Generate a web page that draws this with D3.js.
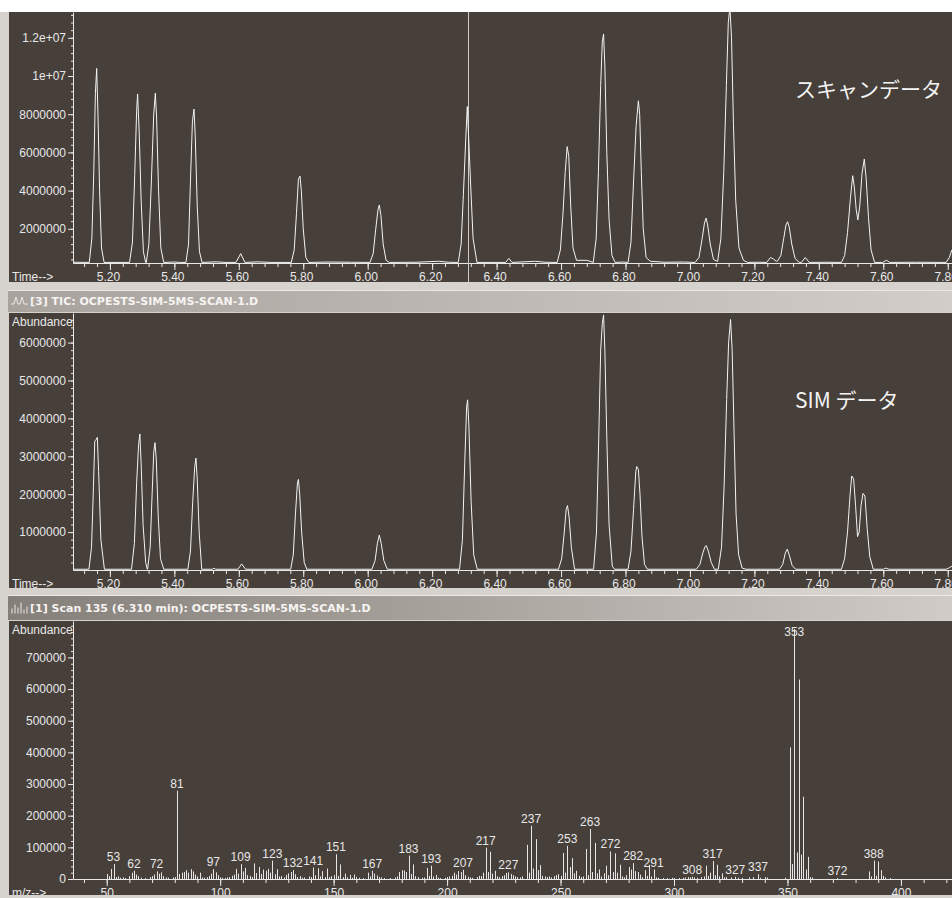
<!DOCTYPE html>
<html>
<head>
<meta charset="utf-8">
<script src="https://cdn.jsdelivr.net/npm/d3@7"></script>
<style>
  body { margin: 0; background: #d6d2cd; }
  svg { display: block; }
</style>
</head>
<body>
<svg id="chart" width="952" height="898"></svg>
<script>
// ---- data ----
// scan TIC trace: [time (min), abundance]
const scanTrace = [
  [5.086, 0.25e6],
  [5.136, 0.24e6], [5.144, 1.5e6], [5.150, 5.0e6], [5.155, 9.1e6], [5.159, 10.4e6], [5.163, 8.0e6], [5.168, 4.0e6], [5.174, 1.0e6], [5.182, 0.24e6],
  [5.261, 0.24e6], [5.270, 1.3e6], [5.277, 4.8e6], [5.283, 8.2e6], [5.286, 9.06e6], [5.291, 7.0e6], [5.297, 3.5e6], [5.304, 0.8e6], [5.311, 0.24e6],
  [5.313, 0.24e6], [5.321, 1.2e6], [5.329, 4.6e6], [5.336, 8.0e6], [5.341, 9.1e6], [5.345, 7.8e6], [5.351, 4.0e6], [5.358, 1.0e6], [5.367, 0.24e6],
  [5.400, 0.26e6], [5.420, 0.24e6],
  [5.436, 0.24e6], [5.444, 1.2e6], [5.450, 4.5e6], [5.456, 7.6e6], [5.461, 8.27e6], [5.465, 6.8e6], [5.471, 3.2e6], [5.478, 0.8e6], [5.486, 0.24e6],
  [5.530, 0.27e6], [5.560, 0.24e6],
  [5.591, 0.24e6], [5.606, 0.7e6], [5.619, 0.24e6],
  [5.660, 0.27e6], [5.700, 0.24e6],
  [5.763, 0.24e6], [5.772, 0.9e6], [5.779, 2.8e6], [5.785, 4.6e6], [5.790, 4.76e6], [5.794, 4.0e6], [5.800, 2.0e6], [5.808, 0.5e6], [5.817, 0.24e6],
  [5.880, 0.26e6], [5.950, 0.25e6],
  [6.007, 0.24e6], [6.017, 0.7e6], [6.025, 2.0e6], [6.032, 3.0e6], [6.036, 3.25e6], [6.041, 2.7e6], [6.048, 1.2e6], [6.057, 0.35e6], [6.067, 0.24e6],
  [6.150, 0.25e6], [6.220, 0.3e6], [6.250, 0.25e6],
  [6.281, 0.24e6], [6.290, 1.2e6], [6.297, 3.8e6], [6.304, 6.6e6], [6.309, 8.4e6], [6.313, 6.9e6], [6.319, 4.5e6], [6.327, 1.5e6], [6.339, 0.24e6],
  [6.428, 0.24e6], [6.438, 0.45e6], [6.448, 0.24e6],
  [6.520, 0.3e6], [6.550, 0.25e6],
  [6.588, 0.24e6], [6.598, 0.9e6], [6.606, 2.8e6], [6.613, 5.0e6], [6.619, 6.3e6], [6.624, 5.8e6], [6.630, 3.2e6], [6.637, 1.0e6], [6.648, 0.35e6],
  [6.680, 0.35e6],
  [6.700, 0.24e6], [6.709, 1.5e6], [6.716, 5.0e6], [6.723, 9.5e6], [6.728, 11.8e6], [6.732, 12.2e6], [6.736, 10.5e6], [6.742, 6.0e6], [6.749, 2.5e6], [6.758, 0.6e6], [6.768, 0.24e6],
  [6.790, 0.26e6],
  [6.808, 0.24e6], [6.817, 1.3e6], [6.825, 4.5e6], [6.833, 7.4e6], [6.840, 8.7e6], [6.844, 8.0e6], [6.849, 5.0e6], [6.855, 2.0e6], [6.864, 0.5e6], [6.877, 0.3e6],
  [6.920, 0.25e6], [6.980, 0.26e6],
  [7.016, 0.24e6], [7.028, 0.5e6], [7.038, 1.5e6], [7.045, 2.3e6], [7.050, 2.56e6], [7.055, 2.2e6], [7.063, 1.2e6], [7.073, 0.4e6], [7.084, 0.3e6],
  [7.086, 0.3e6], [7.096, 1.5e6], [7.105, 5.0e6], [7.113, 9.5e6], [7.119, 12.8e6], [7.124, 13.6e6], [7.129, 12.0e6], [7.135, 7.5e6], [7.142, 3.5e6], [7.152, 1.0e6], [7.166, 0.35e6], [7.179, 0.24e6],
  [7.210, 0.25e6],
  [7.238, 0.24e6], [7.250, 0.5e6], [7.259, 0.42e6], [7.268, 0.3e6],
  [7.271, 0.3e6], [7.282, 0.6e6], [7.291, 1.5e6], [7.298, 2.2e6], [7.303, 2.37e6], [7.308, 2.1e6], [7.316, 1.2e6], [7.326, 0.45e6], [7.339, 0.24e6],
  [7.346, 0.24e6], [7.358, 0.5e6], [7.370, 0.24e6],
  [7.420, 0.25e6],
  [7.470, 0.24e6], [7.480, 0.6e6], [7.489, 1.8e6], [7.498, 3.6e6], [7.505, 4.78e6], [7.510, 4.2e6], [7.516, 3.0e6], [7.521, 2.46e6], [7.527, 3.2e6], [7.534, 4.9e6], [7.541, 5.65e6], [7.547, 4.6e6], [7.554, 2.6e6], [7.562, 0.9e6], [7.573, 0.24e6],
  [7.598, 0.24e6], [7.610, 0.35e6], [7.620, 0.24e6],
  [7.700, 0.25e6],
  [7.795, 0.24e6], [7.805, 0.5e6], [7.813, 0.9e6]
];

// SIM TIC trace: [time (min), abundance]
const simTrace = [
  [5.086, 0.02e6],
  [5.135, 0.02e6], [5.143, 0.6e6], [5.149, 2.2e6], [5.153, 3.4e6], [5.156, 3.42e6], [5.161, 3.5e6], [5.165, 2.6e6], [5.172, 0.8e6], [5.183, 0.02e6],
  [5.267, 0.02e6], [5.276, 0.7e6], [5.283, 2.3e6], [5.289, 3.3e6], [5.293, 3.59e6], [5.297, 2.8e6], [5.303, 1.2e6], [5.311, 0.2e6], [5.316, 0.02e6],
  [5.317, 0.02e6], [5.325, 0.6e6], [5.331, 2.0e6], [5.336, 3.1e6], [5.340, 3.36e6], [5.344, 2.9e6], [5.350, 1.4e6], [5.357, 0.3e6], [5.367, 0.02e6],
  [5.442, 0.02e6], [5.450, 0.5e6], [5.457, 1.8e6], [5.463, 2.7e6], [5.467, 2.95e6], [5.471, 2.4e6], [5.477, 1.0e6], [5.485, 0.02e6],
  [5.518, 0.02e6], [5.523, 0.05e6], [5.528, 0.02e6],
  [5.597, 0.02e6], [5.609, 0.16e6], [5.621, 0.02e6],
  [5.761, 0.02e6], [5.769, 0.4e6], [5.776, 1.5e6], [5.782, 2.3e6], [5.785, 2.39e6], [5.789, 2.0e6], [5.795, 1.0e6], [5.803, 0.2e6], [5.811, 0.02e6],
  [6.013, 0.02e6], [6.023, 0.25e6], [6.030, 0.7e6], [6.036, 0.92e6], [6.042, 0.7e6], [6.050, 0.25e6], [6.061, 0.02e6],
  [6.285, 0.02e6], [6.294, 0.8e6], [6.301, 2.8e6], [6.307, 4.3e6], [6.310, 4.49e6], [6.314, 3.8e6], [6.321, 1.8e6], [6.329, 0.4e6], [6.340, 0.02e6],
  [6.592, 0.02e6], [6.602, 0.3e6], [6.610, 1.0e6], [6.616, 1.6e6], [6.620, 1.7e6], [6.625, 1.4e6], [6.632, 0.6e6], [6.642, 0.02e6],
  [6.701, 0.02e6], [6.710, 1.0e6], [6.717, 3.5e6], [6.723, 5.8e6], [6.728, 6.5e6], [6.732, 6.73e6], [6.736, 5.8e6], [6.742, 3.5e6], [6.749, 1.2e6], [6.759, 0.1e6], [6.766, 0.02e6],
  [6.808, 0.02e6], [6.817, 0.5e6], [6.825, 1.6e6], [6.832, 2.6e6], [6.835, 2.73e6], [6.840, 2.65e6], [6.845, 2.0e6], [6.851, 0.9e6], [6.859, 0.15e6], [6.868, 0.02e6],
  [7.020, 0.02e6], [7.031, 0.15e6], [7.040, 0.45e6], [7.047, 0.62e6], [7.051, 0.64e6], [7.057, 0.5e6], [7.066, 0.2e6], [7.076, 0.02e6],
  [7.088, 0.02e6], [7.098, 0.6e6], [7.106, 2.2e6], [7.114, 4.5e6], [7.120, 6.0e6], [7.126, 6.61e6], [7.131, 5.8e6], [7.137, 3.6e6], [7.143, 1.5e6], [7.151, 0.4e6], [7.162, 0.05e6], [7.174, 0.02e6],
  [7.278, 0.02e6], [7.288, 0.15e6], [7.296, 0.45e6], [7.302, 0.55e6], [7.308, 0.4e6], [7.317, 0.12e6], [7.328, 0.02e6],
  [7.470, 0.02e6], [7.480, 0.3e6], [7.489, 1.0e6], [7.497, 2.0e6], [7.502, 2.48e6], [7.508, 2.4e6], [7.514, 1.7e6], [7.520, 0.88e6], [7.525, 1.0e6], [7.531, 1.7e6], [7.537, 2.02e6], [7.543, 1.95e6], [7.550, 1.1e6], [7.558, 0.35e6], [7.569, 0.02e6],
  [7.600, 0.02e6], [7.608, 0.05e6], [7.618, 0.02e6],
  [7.795, 0.02e6], [7.805, 0.06e6], [7.813, 0.1e6]
];

// mass spectrum of scan 135: [m/z, abundance]
const spectrum = [
  [50,16000],[51,9000],[52,32000],[53,47000],[54,6000],[55,8000],[56,4000],[57,5000],[58,3000],
  [60,9000],[61,20000],[62,26000],[63,14000],[64,9000],[65,4000],[67,3000],[69,6000],
  [70,9000],[71,14000],[72,24000],[73,17000],[74,21000],[75,9000],[76,5000],[77,4000],[79,5000],
  [80,6000],[81,279000],[82,16000],[83,20000],[84,22000],[85,28000],[86,20000],[87,31000],[88,24000],[89,14000],
  [90,8000],[91,20000],[92,5000],[93,4000],[94,6000],[95,9000],[96,17000],[97,31000],[98,21000],[99,12000],
  [100,5000],[101,4000],[102,3000],[103,5000],[104,6000],[105,10000],[106,14000],[107,32000],[108,17000],[109,47000],
  [110,24000],[111,35000],[112,12000],[113,10000],[114,6000],[115,49000],[116,19000],[117,38000],[118,16000],[119,30000],
  [120,26000],[121,32000],[122,20000],[123,58000],[124,15000],[125,31000],[126,8000],[127,9000],[128,5000],[129,13000],
  [130,18000],[131,22000],[132,28000],[133,15000],[134,6000],[135,9000],[136,4000],[137,5000],[139,8000],
  [140,6000],[141,36000],[142,12000],[143,34000],[144,8000],[145,25000],[146,6000],[147,33000],[148,6000],[149,9000],
  [150,12000],[151,78000],[152,10000],[153,46000],[154,6000],[155,17000],[156,5000],[157,13000],[158,4000],[159,14000],
  [160,6000],[161,4000],[163,3000],[165,20000],[166,8000],[167,26000],[168,17000],[169,11000],
  [170,6000],[171,5000],[172,3000],[175,3000],[177,5000],[178,8000],[179,22000],
  [180,28000],[181,27000],[182,22000],[183,74000],[184,16000],[185,46000],[186,9000],[187,6000],[189,4000],
  [190,5000],[191,35000],[192,10000],[193,42000],[194,8000],[195,13000],[196,4000],[197,3000],[199,4000],
  [200,6000],[201,8000],[202,10000],[203,20000],[204,14000],[205,25000],[206,22000],[207,29000],[208,12000],[209,7000],
  [210,5000],[211,4000],[213,6000],[214,10000],[215,9000],[216,20000],[217,99000],[218,22000],[219,86000],
  [220,17000],[221,26000],[222,8000],[223,6000],[224,9000],[225,12000],[226,19000],[227,21000],[228,16000],[229,12000],
  [230,8000],[231,6000],[232,5000],[233,8000],[235,108000],[236,20000],[237,168000],[238,33000],[239,126000],
  [240,28000],[241,44000],[242,10000],[243,8000],[244,6000],[245,8000],[246,5000],[247,9000],[248,12000],[249,15000],
  [250,10000],[251,82000],[252,20000],[253,105000],[254,38000],[255,66000],[256,18000],[257,26000],[258,10000],[259,6000],
  [260,8000],[261,95000],[262,12000],[263,158000],[264,22000],[265,114000],[266,18000],[267,30000],[268,8000],[269,18000],
  [270,42000],[271,12000],[272,87000],[273,22000],[274,81000],[275,20000],[276,45000],[277,8000],[278,5000],[279,12000],
  [280,38000],[281,30000],[282,50000],[283,25000],[284,22000],[285,14000],[286,6000],[287,28000],[288,10000],[289,45000],
  [290,8000],[291,30000],[292,5000],[293,4000],[295,3000],[297,3000],[299,4000],
  [300,3000],[302,3000],[304,4000],[305,5000],[306,6000],[307,5000],[308,7000],[309,5000],
  [310,4000],[312,6000],[313,8000],[314,42000],[315,10000],[316,20000],[317,57000],[318,12000],[319,45000],
  [320,8000],[321,18000],[322,5000],[323,6000],[325,5000],[327,7000],[328,4000],
  [330,4000],[333,5000],[335,6000],[337,15000],[338,4000],[340,6000],[341,5000],[349,4000],
  [351,416000],[352,47000],[353,790000],[354,84000],[355,630000],[356,77000],[357,260000],[358,30000],[359,70000],
  [360,6000],[361,5000],[372,3000],
  [386,24000],[387,8000],[388,58000],[389,10000],[390,55000],[391,28000],[392,10000],[393,5000],[395,3000]
];
const spectrumLabels = [53, 62, 72, 81, 97, 109, 123, 132, 141, 151, 167, 183, 193, 207, 217, 227, 237,
  253, 263, 272, 282, 291, 308, 317, 327, 337, 353, 372, 388];

// axes
const timeTicks = [5.2, 5.4, 5.6, 5.8, 6.0, 6.2, 6.4, 6.6, 6.8, 7.0, 7.2, 7.4, 7.6, 7.8];
const scanTicks = [2e6, 4e6, 6e6, 8e6, 1e7, 1.2e7];
const scanTickLabels = ["2000000", "4000000", "6000000", "8000000", "1e+07", "1.2e+07"];
const simTicks = [1e6, 2e6, 3e6, 4e6, 5e6, 6e6];
const simTickLabels = ["1000000", "2000000", "3000000", "4000000", "5000000", "6000000"];
const specTicks = [0, 1e5, 2e5, 3e5, 4e5, 5e5, 6e5, 7e5];
const specTickLabels = ["0", "100000", "200000", "300000", "400000", "500000", "600000", "700000"];
const mzTicks = [50, 100, 150, 200, 250, 300, 350, 400];

const cursorTime = 6.310;
const simTitle = "[3] TIC: OCPESTS-SIM-5MS-SCAN-1.D";
const specTitle = "[1] Scan 135 (6.310 min): OCPESTS-SIM-5MS-SCAN-1.D";
const scanNote = "スキャンデータ";
const simNote = "SIM データ";

// ---- layout ----
const W = 952, H = 898;
const LEFT = 9, AXIS_X = 73;
const BG = "#463f3a";
const INK = "#e8e8e8";
const FONT = "'Liberation Sans', Arial, sans-serif";

const svg = d3.select("#chart");
const defs = svg.append("defs");

svg.append("rect").attr("width", W).attr("height", H).attr("fill", "#d6d2cd");
svg.append("rect").attr("width", W).attr("height", 12).attr("fill", "#ffffff");

function gradient(id, c0, c1) {
  const gr = defs.append("linearGradient").attr("id", id).attr("x1", 0).attr("x2", 1).attr("y1", 0).attr("y2", 0);
  gr.append("stop").attr("offset", 0).attr("stop-color", c0);
  gr.append("stop").attr("offset", 1).attr("stop-color", c1);
}
gradient("barA", "#a9a39e", "#d2cdc8");
gradient("barB", "#857f79", "#d0cbc6");

function panel(y0, y1) {
  svg.append("rect").attr("x", LEFT).attr("y", y0).attr("width", W - LEFT).attr("height", y1 - y0).attr("fill", BG);
  const id = "clip" + y0;
  defs.append("clipPath").attr("id", id)
    .append("rect").attr("x", LEFT).attr("y", y0).attr("width", W - LEFT).attr("height", y1 - y0);
  return svg.append("g").attr("clip-path", `url(#${id})`);
}

function titleBar(y0, y1, text, fill, bars) {
  svg.append("rect").attr("x", LEFT - 1).attr("y", y0).attr("width", W - LEFT + 1).attr("height", y1 - y0).attr("fill", fill);
  svg.append("line").attr("x1", LEFT - 1).attr("x2", W).attr("y1", y0 + 0.5).attr("y2", y0 + 0.5).attr("stroke", "#ebe8e5");
  const cy = (y0 + y1) / 2;
  // small window icon
  const icon = bars
    ? `M12,${cy + 6}V${cy + 1}M15,${cy + 6}V${cy - 3}M18,${cy + 6}V${cy}M21,${cy + 6}V${cy - 5}M24,${cy + 6}V${cy + 2}M27,${cy + 6}V${cy - 1}`
    : `M11,${cy + 3}H14L16,${cy - 4}L18,${cy + 3}H20L22,${cy - 4}L24,${cy + 3}H28`;
  svg.append("path").attr("d", icon).attr("fill", "none").attr("stroke", "#ece8e4").attr("stroke-width", 1);
  svg.append("text").attr("x", 30).attr("y", cy + 4)
    .attr("font-family", "'DejaVu Sans', Verdana, sans-serif").attr("font-weight", "bold")
    .attr("font-size", 11).attr("fill", "#f6f4f2").text(text);
}

function yAxis(g, y, ticks, labels, minor) {
  g.append("g").attr("transform", `translate(${AXIS_X},0)`)
    .call(d3.axisLeft(y).tickValues(ticks).tickFormat((d, i) => labels[i]).tickSize(5).tickSizeOuter(0).tickPadding(2))
    .call(s => {
      s.select(".domain").attr("stroke", INK);
      s.selectAll(".tick line").attr("stroke", INK);
      s.selectAll(".tick text").attr("fill", INK).attr("font-size", 12).attr("font-family", FONT);
    });
  g.append("g").attr("transform", `translate(${AXIS_X},0)`)
    .call(d3.axisLeft(y).tickValues(minor).tickFormat("").tickSize(2).tickSizeOuter(0))
    .call(s => { s.select(".domain").remove(); s.selectAll(".tick line").attr("stroke", INK); });
}

function xAxis(g, x, yPos, ticks, fmt, minor, name, dx) {
  g.append("g").attr("transform", `translate(0,${yPos})`)
    .call(d3.axisBottom(x).tickValues(minor).tickFormat("").tickSize(4).tickSizeOuter(0))
    .call(s => { s.select(".domain").remove(); s.selectAll(".tick line").attr("stroke", INK); });
  g.append("g").attr("transform", `translate(0,${yPos})`)
    .call(d3.axisBottom(x).tickValues(ticks).tickFormat(fmt).tickSize(7).tickSizeOuter(0).tickPadding(2))
    .call(s => {
      s.select(".domain").attr("stroke", INK);
      s.selectAll(".tick line").attr("stroke", INK);
      s.selectAll(".tick text").attr("fill", INK).attr("font-size", 12).attr("font-family", FONT).attr("dx", dx);
    });
  g.append("text").attr("x", 12).attr("y", yPos + 17.5)
    .attr("fill", INK).attr("font-size", 12).attr("font-family", FONT).text(name);
}

function abundanceLabel(g, y0) {
  g.append("text").attr("x", 12).attr("y", y0 + 12.5)
    .attr("fill", INK).attr("font-size", 12).attr("font-family", FONT).text("Abundance");
}

const traceLine = (x, y) => d3.line().x(d => x(d[0])).y(d => y(d[1]));
const timeMinor = d3.range(128, 196).map(i => i * 0.04);

// ---- panel 1: scan TIC ----
const xTime = d3.scaleLinear().domain([5.0855, 7.8132]).range([AXIS_X, W]);
const yScan = d3.scaleLinear().domain([2.1e5, 1.335e7]).range([263, 12]);
const g1 = panel(12, 282);
yAxis(g1, yScan, scanTicks, scanTickLabels, d3.range(1, 34).map(i => i * 4e5));
xAxis(g1, xTime, yScan.range()[0], timeTicks, d3.format(".2f"), timeMinor, "Time-->", -2);
g1.append("line")
  .attr("x1", Math.round(xTime(cursorTime)) + 0.5).attr("x2", Math.round(xTime(cursorTime)) + 0.5)
  .attr("y1", 12).attr("y2", 282).attr("stroke", "#cdcac7");
g1.append("path").datum(scanTrace).attr("d", traceLine(xTime, yScan))
  .attr("fill", "none").attr("stroke", "#f4f4f4").attr("stroke-width", 1);
g1.append("text").attr("x", 795).attr("y", 97)
  .attr("font-family", "'Noto Sans CJK JP', sans-serif").attr("font-size", 21).attr("fill", "#f4f4f4").text(scanNote);

// ---- panel 2: SIM TIC ----
titleBar(290, 312, simTitle, "url(#barA)", false);
const ySim = d3.scaleLinear().domain([0, 6.78e6]).range([570, 313]);
const g2 = panel(313, 588);
abundanceLabel(g2, 313);
yAxis(g2, ySim, simTicks, simTickLabels, d3.range(1, 34).map(i => i * 2e5));
xAxis(g2, xTime, ySim.range()[0], timeTicks, d3.format(".2f"), timeMinor, "Time-->", -2);
g2.append("path").datum(simTrace).attr("d", traceLine(xTime, ySim))
  .attr("fill", "none").attr("stroke", "#f4f4f4").attr("stroke-width", 1);
g2.append("text").attr("x", 795).attr("y", 408)
  .attr("font-family", "'Noto Sans CJK JP', sans-serif").attr("font-size", 21).attr("fill", "#f4f4f4").text(simNote);

// ---- panel 3: mass spectrum ----
titleBar(595, 620, specTitle, "url(#barB)", true);
const xMz = d3.scaleLinear().domain([35.15, 422.5]).range([AXIS_X, W]);
const ySpec = d3.scaleLinear().domain([0, 8.15e5]).range([879, 621]);
const g3 = panel(621, 895);
abundanceLabel(g3, 621);
yAxis(g3, ySpec, specTicks, specTickLabels, d3.range(1, 41).map(i => i * 2e4));
xAxis(g3, xMz, ySpec.range()[0], mzTicks, d3.format("d"), d3.range(40, 430, 10), "m/z-->", 0);

g3.append("g").selectAll("line").data(spectrum).join("line")
  .attr("x1", d => Math.round(xMz(d[0])) + 0.5).attr("x2", d => Math.round(xMz(d[0])) + 0.5)
  .attr("y1", ySpec(0)).attr("y2", d => ySpec(d[1]))
  .attr("stroke", "#e6e6e6").attr("stroke-width", 1);

g3.append("g").selectAll("text").data(spectrum.filter(d => spectrumLabels.includes(d[0]))).join("text")
  .attr("x", d => xMz(d[0]))
  .attr("y", d => Math.max(ySpec(d[1]) - 3, 621 + 15))
  .attr("text-anchor", "middle")
  .attr("fill", INK).attr("font-size", 12).attr("font-family", FONT)
  .text(d => d[0]);
</script>
</body>
</html>
